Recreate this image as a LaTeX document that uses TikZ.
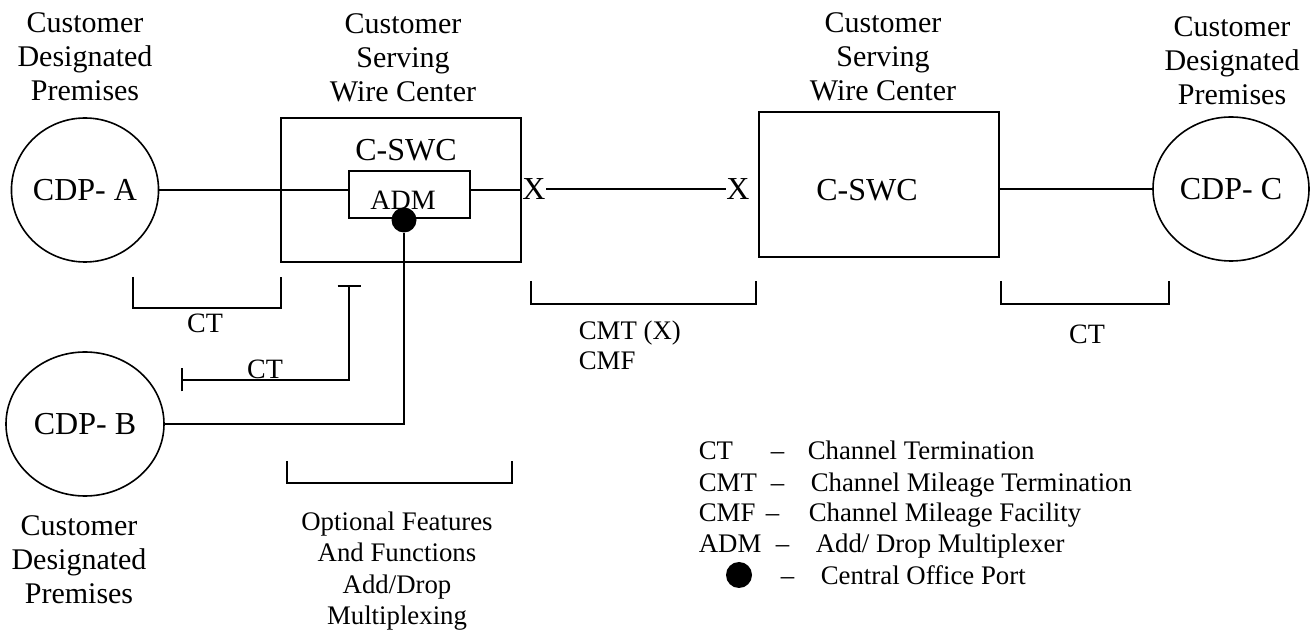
\documentclass[tikz,border=0pt]{standalone}
\usepackage{fontspec}
\setmainfont{Liberation Serif}
\usetikzlibrary{positioning,shapes.geometric,arrows.meta}

\begin{document}
\begin{tikzpicture}[x=0.5pt,y=-0.5pt,line width=0.8pt,
    cdp/.style={ellipse,draw,inner sep=0pt,minimum height=72pt,font=\fontsize{16}{19}\selectfont},
    swc/.style={rectangle,draw,minimum width=120pt,minimum height=72pt},
    big/.style={inner sep=0pt,font=\fontsize{16}{19}\selectfont},
    txt/.style={inner sep=0pt,align=center,font=\fontsize{14}{17}\selectfont},
    head/.style={txt,font=\fontsize{15}{17}\selectfont},
    key/.style={inner sep=0pt,anchor=base west,font=\fontsize{13.4}{15}\selectfont},
    port/.style={circle,fill,inner sep=0pt,minimum size=12.5pt}]

\useasboundingbox (0,0) rectangle (1313,630);

% premises
\node[cdp,minimum width=72pt] (cdpA) at (85,190) {CDP- A};
\node[cdp,minimum width=79pt] (cdpB) at (85,424) {CDP- B};
\node[cdp,minimum width=78pt] (cdpC) at (1231,189) {CDP- C};

% wire centers
\node[swc] (swcL) at (401,190) {};
\node[big] (swcLname) at (406,150) {C-SWC};
\node[draw,minimum width=60.5pt,minimum height=23.5pt] (adm) at (409.5,194.5) {};
\node[txt] (admname) at (403,200) {ADM};
\node[port] (port) at (404,220) {};
\node[swc,minimum height=72.5pt] (swcR) at (879,184.5) {};
\node[big] (swcRname) at (867,190) {C-SWC};
\node[big] (xL) at (534,189) {X};
\node[big] (xR) at (738,189) {X};

% headings
\node[head] (premA) at (85,57) {Customer\\Designated\\Premises};
\node[head] (servL) at (403,58) {Customer\\Serving\\Wire Center};
\node[head] (servR) at (883,57) {Customer\\Serving\\Wire Center};
\node[head] (premC) at (1232,61) {Customer\\Designated\\Premises};
\node[head] (premB) at (79,560) {Customer\\Designated\\Premises};
\node[txt,font=\fontsize{13.4}{15.7}\selectfont] (optional) at (397,571) {Optional Features\\And Functions\\Add/Drop\\Multiplexing};

% links
\draw (cdpA) -- (cdpA -| adm.west);
\draw (adm.east |- cdpA) -- (cdpA -| swcL.east);
\draw (xL.east) -- (xR.west);
\draw (swcR.east |- cdpC) -- (cdpC);
\coordinate (drop) at (port |- cdpB);
\draw (port) -- (drop) -- (cdpB);

% spans
\draw (133,277) |- (281,308) -- (281,277);
\node[txt] (ctA) at (205,323) {CT};
\draw[{Bar[width=11.5pt]}-{Bar[width=11.5pt]}] (349,285) |- (181,380);
\node[txt,anchor=base] (ctB) at (265,379) {CT};
\draw (531,281) |- (756,304) -- (756,281);
\node[key] (cmt) at (578,340) {CMT (X)};
\node[key] (cmf) at (578,370) {CMF};
\draw (1001,281) |- (1169,304) -- (1169,281);
\node[txt] (ctC) at (1087,334) {CT};
\draw (287,461) |- (512,483) -- (512,461);

% legend
\node[key] (keyCT) at (698,460) {CT};
\node[key] (dashCT) at (770,460) {--};
\node[key] (descCT) at (807,460) {Channel Termination};
\node[key] (keyCMT) at (698,492) {CMT};
\node[key] (dashCMT) at (770,492) {--};
\node[key] (descCMT) at (810,492) {Channel Mileage Termination};
\node[key] (keyCMF) at (698,522) {CMF};
\node[key] (dashCMF) at (765,522) {--};
\node[key] (descCMF) at (808,522) {Channel Mileage Facility};
\node[key] (keyADM) at (698,553) {ADM};
\node[key] (dashADM) at (775,553) {--};
\node[key] (descADM) at (815,553) {Add/ Drop Multiplexer};
\node[port,minimum size=13pt] (keyport) at (739,575) {};
\node[key] (dashport) at (780,585) {--};
\node[key] (descport) at (820,585) {Central Office Port};
\end{tikzpicture}
\end{document}
